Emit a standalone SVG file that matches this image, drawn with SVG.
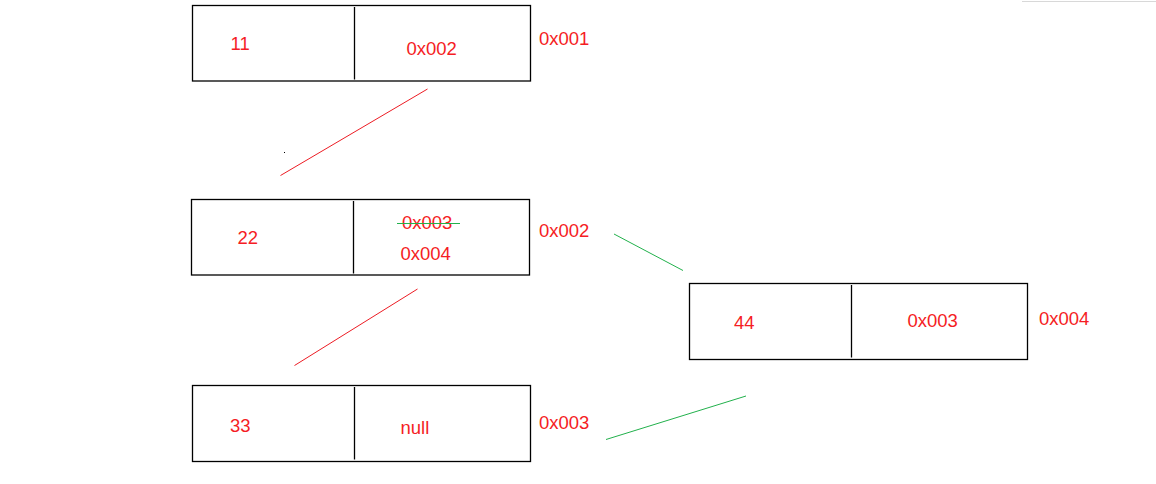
<svg xmlns="http://www.w3.org/2000/svg" width="1156" height="484" viewBox="0 0 1156 484">
<style>
.box{fill:none;stroke:#000;stroke-width:1.3}
.div{stroke:#000;stroke-width:1.3}
.t{font-family:"Liberation Sans",Arial,sans-serif;font-size:18.5px;fill:#f51d24}
.red{stroke:#ed1c24;stroke-width:1;fill:none}
.green{stroke:#22b14c;stroke-width:1;fill:none}
</style>
<rect width="1156" height="484" fill="#fff"/>
<line x1="1022" y1="1.5" x2="1156" y2="1.5" stroke="#d8d8d8" stroke-width="1"/>
<g id="node-0x001">
<rect class="box" x="192.5" y="5.5" width="338" height="75.5"/>
<line class="div" x1="354.5" y1="7" x2="354.5" y2="79.5"/>
<text class="t" x="230.5" y="50">11</text>
<text class="t" x="406.5" y="54.5">0x002</text>
<text class="t" x="539" y="44.5">0x001</text>
</g>
<g id="node-0x002">
<rect class="box" x="191.5" y="199.5" width="338" height="75.5"/>
<line class="div" x1="353.5" y1="201" x2="353.5" y2="273.5"/>
<text class="t" x="237.5" y="243.5">22</text>
<text class="t" x="402" y="229">0x003</text>
<line class="green" x1="397" y1="223.5" x2="460" y2="223.5"/>
<text class="t" x="400.5" y="259.5">0x004</text>
<text class="t" x="539" y="237">0x002</text>
</g>
<g id="node-0x003">
<rect class="box" x="192.5" y="385.5" width="338" height="76"/>
<line class="div" x1="354.5" y1="387" x2="354.5" y2="459.5"/>
<text class="t" x="230" y="432">33</text>
<text class="t" x="400.5" y="434">null</text>
<text class="t" x="539" y="428.5">0x003</text>
</g>
<g id="node-0x004">
<rect class="box" x="689.5" y="283.5" width="338" height="76"/>
<line class="div" x1="851.5" y1="285" x2="851.5" y2="357.5"/>
<text class="t" x="734" y="329">44</text>
<text class="t" x="907.5" y="327">0x003</text>
<text class="t" x="1039" y="324.5">0x004</text>
</g>
<g id="connectors">
<line class="red" x1="427.5" y1="89" x2="280.5" y2="175.5"/>
<line class="red" x1="417.5" y1="289" x2="294.5" y2="365.5"/>
<line class="green" x1="614" y1="234" x2="683" y2="270.5"/>
<line class="green" x1="606" y1="439.5" x2="746" y2="396"/>
<rect x="284" y="152" width="1" height="1" fill="#000"/>
</g>
</svg>
